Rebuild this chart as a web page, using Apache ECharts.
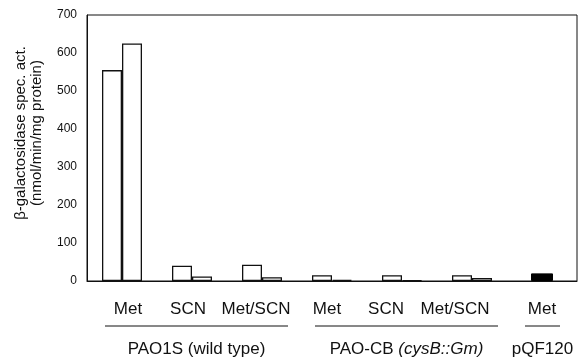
<!DOCTYPE html>
<html>
<head>
<meta charset="utf-8">
<script src="https://cdn.jsdelivr.net/npm/echarts@6/dist/echarts.min.js"></script>
<style>
  html, body { margin: 0; padding: 0; background: #fff; }
  #chart { width: 578px; height: 363px; }
</style>
</head>
<body>
<div id="chart"></div>
<script>
// conditions on the x axis
var categories = ['Met', 'SCN', 'Met/SCN', 'Met', 'SCN', 'Met/SCN', 'Met'];
// two open bars per condition, one filled bar for the vector control
var firstBar = [555, 40, 43, 15, 15, 15, null];
var secondBar = [625, 12, 10, 3, 2, 8, null];
var vectorBar = [null, null, null, null, null, null, 20];
// strain groups under the labels (index of first / last condition)
var groupNames = ['PAO1S (wild type)', 'PAO-CB {i|(cysB::Gm)}', 'pQF120'];
var groupFirst = [0, 3, 6];
var groupLast = [2, 5, 6];

var FONT = '"Liberation Sans", Arial, sans-serif';
// little nudges so the labels sit where they do in the figure
var labelShift = [6, -4, -6, -5, -16, -17, 0];

var chart = echarts.init(document.getElementById('chart'));

var option = {
  animation: false,
  backgroundColor: '#fff',
  grid: {
    left: 87, right: 1, top: 15, bottom: 82,
    show: true, borderColor: '#111', borderWidth: 1
  },
  xAxis: [
    {
      type: 'category',
      data: categories,
      axisLine: { lineStyle: { color: '#111', width: 1 } },
      axisTick: { show: false },
      axisLabel: {
        interval: 0,
        hideOverlap: false,
        margin: 20,
        color: '#111',
        fontFamily: FONT,
        fontSize: 17,
        formatter: function (val, idx) {
          return '{s' + idx + '|' + val + '}';
        },
        rich: (function () {
          var r = {};
          labelShift.forEach(function (s, i) {
            r['s' + i] = {
              fontFamily: FONT, fontSize: 17, color: '#111',
              padding: s > 0 ? [0, 0, 0, 2 * s] : [0, -2 * s, 0, 0]
            };
          });
          return r;
        })()
      }
    },
    {
      // hidden twin axis so the single black bar sits centred in its slot
      type: 'category',
      data: categories,
      show: false
    }
  ],
  yAxis: {
    type: 'value',
    min: 0, max: 700, interval: 100,
    name: 'β-galactosidase spec. act.\n(nmol/min/mg protein)',
    nameLocation: 'middle',
    nameGap: 42,
    nameTextStyle: {
      fontFamily: FONT, fontSize: 15, color: '#111', lineHeight: 16,
      padding: [0, 0, 0, 30]
    },
    axisLine: { show: true, lineStyle: { color: '#111', width: 1 } },
    axisTick: { show: false },
    splitLine: { show: false },
    axisLabel: { margin: 10, color: '#111', fontFamily: FONT, fontSize: 12 }
  },
  series: [
    {
      type: 'bar', data: firstBar, barWidth: 20, barGap: 0,
      itemStyle: { color: '#fff', borderColor: '#111', borderWidth: 1.3 }
    },
    {
      type: 'bar', data: secondBar, barWidth: 20, barGap: 0,
      itemStyle: { color: '#fff', borderColor: '#111', borderWidth: 1.3 }
    },
    {
      type: 'bar', data: vectorBar, xAxisIndex: 1, barWidth: 22,
      itemStyle: { color: '#000', borderColor: '#000', borderWidth: 1 }
    }
  ]
};

chart.setOption(option);

// strain underlines and names, placed from the category positions
var yLine = 326, yName = 349;
var graphics = [];
groupNames.forEach(function (name, g) {
  var x0 = chart.convertToPixel({ xAxisIndex: 0 }, groupFirst[g]) - 17;
  var x1 = chart.convertToPixel({ xAxisIndex: 0 }, groupLast[g]) + (groupFirst[g] === groupLast[g] ? 18 : 26);
  graphics.push({
    type: 'line',
    shape: { x1: x0, y1: yLine, x2: x1, y2: yLine },
    style: { stroke: '#111', lineWidth: 1 }
  });
  graphics.push({
    type: 'text',
    x: (x0 + x1) / 2, y: yName,
    style: {
      text: name,
      align: 'center', verticalAlign: 'middle',
      font: '17px ' + FONT, fill: '#111',
      rich: { i: { fontStyle: 'italic', fontFamily: FONT, fontSize: 17, fill: '#111' } }
    }
  });
});
chart.setOption({ graphic: graphics });
</script>
</body>
</html>
